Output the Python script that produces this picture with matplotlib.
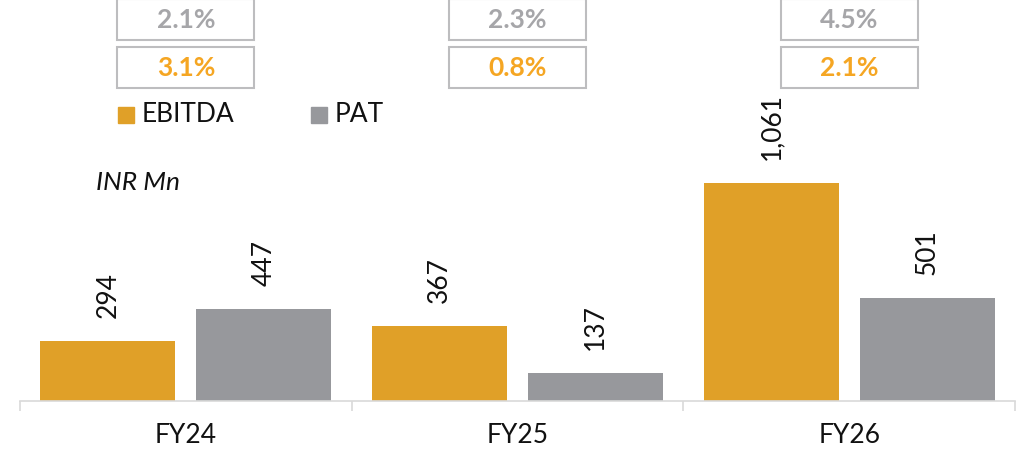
import matplotlib.pyplot as plt
from matplotlib.patches import Rectangle
from matplotlib.transforms import blended_transform_factory

# ---------------------------------------------------------
#  Data
# ---------------------------------------------------------

years = ["FY24", "FY25", "FY26"]
ebitda = [294, 367, 1061]
pat = [447, 137, 501]
pat_margin = ["2.1%", "2.3%", "4.5%"]
ebitda_margin = ["3.1%", "0.8%", "2.1%"]

ORANGE = "#E0A028"
GREY = "#97989C"
ORANGE_TXT = "#F5A623"
GREY_TXT = "#A6A6A9"
BOX_EDGE = "#BDBDBF"

plt.rcParams["font.family"] = ["Lato", "DejaVu Sans"]


def fmt(v: int) -> str:
    return f"{v:,}"


# ---------------------------------------------------------
#  Figure
# ---------------------------------------------------------

W, H = 1024, 455
fig = plt.figure(figsize=(W / 100, H / 100), dpi=100)

base_px = 401
ax = fig.add_axes([20 / W, (H - base_px) / H, 995 / W, base_px / H])
px_per_unit = 218 / 1061
ax.set_ylim(0, base_px / px_per_unit)
ax.set_xlim(-0.5, len(years) - 0.5)

x = list(range(len(years)))
width = 0.407
off = 0.235

ax.bar([i - off for i in x], ebitda, width=width, color=ORANGE, label="EBITDA")
ax.bar([i + off for i in x], pat, width=width, color=GREY, label="PAT")

gap = 23 / px_per_unit
for i in x:
    ax.text(i - off, ebitda[i] + gap, fmt(ebitda[i]), rotation=90,
            ha="center", va="bottom", fontsize=19, color="#111111")
    ax.text(i + off, pat[i] + gap, fmt(pat[i]), rotation=90,
            ha="center", va="bottom", fontsize=19, color="#111111")

# axis styling
for side in ["left", "right", "top"]:
    ax.spines[side].set_visible(False)
ax.spines["bottom"].set_color("#D9D9D9")
ax.spines["bottom"].set_linewidth(1.2)
ax.set_yticks([])
ax.set_xticks(x)
ax.set_xticklabels(years, fontsize=19, color="#111111")
ax.tick_params(axis="x", which="major", length=0, pad=16)
ax.set_xticks([-0.5, 0.5, 1.5, 2.5], minor=True)
ax.tick_params(axis="x", which="minor", length=7, color="#D9D9D9", width=1.2)

# margin boxes above the chart
trans = blended_transform_factory(ax.transData, fig.transFigure)
box_w = 137 / (995 / 3)
rows = [(pat_margin, GREY_TXT, -1, 40), (ebitda_margin, ORANGE_TXT, 47, 88)]
for labels, col, top, bot in rows:
    for i in x:
        y0 = (H - bot) / H
        h = (bot - top) / H
        ax.add_patch(Rectangle((i - box_w / 2, y0), box_w, h, transform=trans,
                               facecolor="white", edgecolor=BOX_EDGE,
                               linewidth=1.5, clip_on=False))
        ax.text(i, y0 + h / 2, labels[i], transform=trans, ha="center",
                va="center", fontsize=19, fontweight="bold", color=col)

# legend
fig.patches.append(Rectangle((118 / W, (H - 123) / H), 16 / W, 16 / H,
                             transform=fig.transFigure, color=ORANGE))
fig.text(142 / W, (H - 115) / H, "EBITDA", fontsize=19, va="center",
         color="#111111")
fig.patches.append(Rectangle((311 / W, (H - 123) / H), 16 / W, 16 / H,
                             transform=fig.transFigure, color=GREY))
fig.text(335 / W, (H - 115) / H, "PAT", fontsize=19, va="center",
         color="#111111")

fig.text(96 / W, (H - 183) / H, "INR Mn", fontsize=19, style="italic",
         va="center", color="#111111")

fig.savefig("out.png", dpi=100)
